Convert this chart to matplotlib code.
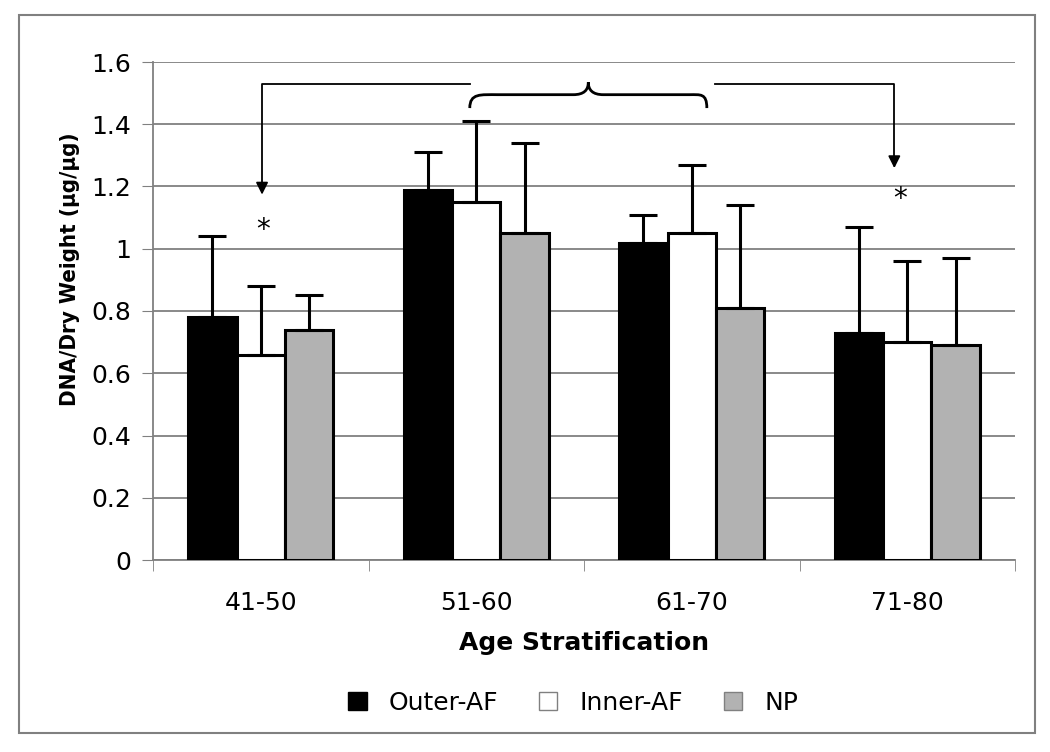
import matplotlib
matplotlib.use("Agg")
import matplotlib.pyplot as plt
import numpy as np
from matplotlib.path import Path
from matplotlib.patches import PathPatch, Rectangle

categories = ["41-50", "51-60", "61-70", "71-80"]
outer_af = [0.78, 1.19, 1.02, 0.73]
inner_af = [0.66, 1.15, 1.05, 0.70]
np_vals = [0.74, 1.05, 0.81, 0.69]
outer_err = [0.26, 0.12, 0.09, 0.34]
inner_err = [0.22, 0.26, 0.22, 0.26]
np_err = [0.11, 0.29, 0.33, 0.28]

plt.rcParams['font.family'] = ['DejaVu Sans']

fig = plt.figure(figsize=(10.5, 7.52), dpi=100)
ax = fig.add_axes([153 / 1050, 1 - 560 / 752, (1015 - 153) / 1050, (560 - 62) / 752])

x = np.arange(len(categories))
w = 0.225
series = [(outer_af, outer_err, "black", "Outer-AF"),
          (inner_af, inner_err, "white", "Inner-AF"),
          (np_vals, np_err, "#b2b2b2", "NP")]
for i, (vals, err, col, lab) in enumerate(series):
    ax.bar(x + (i - 1) * w, vals, w, color=col, edgecolor="black", linewidth=2.2,
           label=lab, zorder=3)
    ax.errorbar(x + (i - 1) * w, vals, yerr=[np.zeros(len(err)), err], fmt="none",
                ecolor="black", elinewidth=2.2, capsize=10, capthick=2.2, zorder=4)

ax.set_ylim(0, 1.6)
ax.set_xlim(-0.5, 3.5)
ax.set_yticks(np.arange(0, 1.61, 0.2))
ax.set_yticklabels(["0", "0.2", "0.4", "0.6", "0.8", "1", "1.2", "1.4", "1.6"])
ax.set_xticks(x)
ax.set_xticklabels(categories)
ax.set_xticks(np.arange(-0.5, 3.6, 1), minor=True)
ax.tick_params(axis="x", which="major", length=0, labelsize=18, pad=22)
ax.tick_params(axis="x", which="minor", length=8, color="#808080", direction="out")
ax.tick_params(axis="y", length=8, color="#808080", labelsize=18, pad=8)
ax.yaxis.grid(True, color="#808080", linewidth=1.3, zorder=0)
ax.set_axisbelow(True)
for s in ["top", "right"]:
    ax.spines[s].set_visible(False)
for s in ["left", "bottom"]:
    ax.spines[s].set_color("#808080")
    ax.spines[s].set_linewidth(1.3)

ax.set_ylabel("DNA/Dry Weight (\u00b5g/\u00b5g)", fontsize=16, fontweight="heavy",
              fontstretch="condensed")
ax.yaxis.set_label_coords(-(153 - 80) / 862, (560 - 269) / 498)
ax.set_xlabel("Age Stratification", fontsize=18, fontweight="heavy")
ax.xaxis.set_label_coords(0.5, -(631 - 560) / 498)

# significance connectors
ax.plot([0.97, 0.006, 0.006], [1.53, 1.53, 1.20], color="black", lw=1.3, clip_on=False)
ax.annotate("", xy=(0.006, 1.165), xytext=(0.006, 1.21),
            arrowprops=dict(arrowstyle="-|>", color="black", lw=1.3, mutation_scale=18))
ax.plot([2.11, 2.94, 2.94], [1.53, 1.53, 1.29], color="black", lw=1.3, clip_on=False)
ax.annotate("", xy=(2.94, 1.25), xytext=(2.94, 1.30),
            arrowprops=dict(arrowstyle="-|>", color="black", lw=1.3, mutation_scale=18))
ax.text(0.01, 1.06, "*", fontsize=20, ha="center", va="center")
ax.text(2.965, 1.16, "*", fontsize=20, ha="center", va="center")

# brace
verts = [(0.97, 1.452), (0.97, 1.50), (1.02, 1.495), (1.10, 1.495),
         (1.45, 1.495),
         (1.50, 1.495), (1.52, 1.51), (1.52, 1.535),
         (1.52, 1.51), (1.54, 1.495), (1.59, 1.495),
         (1.99, 1.495),
         (2.04, 1.495), (2.07, 1.50), (2.07, 1.452)]
codes = [Path.MOVETO, Path.CURVE4, Path.CURVE4, Path.CURVE4,
         Path.LINETO,
         Path.CURVE4, Path.CURVE4, Path.CURVE4,
         Path.CURVE4, Path.CURVE4, Path.CURVE4,
         Path.LINETO,
         Path.CURVE4, Path.CURVE4, Path.CURVE4]
ax.add_patch(PathPatch(Path(verts, codes), fill=False, lw=2, edgecolor="black"))

leg = fig.legend(loc="center", bbox_to_anchor=(0.546, 1 - 703 / 752), ncol=3,
                 frameon=False, fontsize=18, handlelength=0.75, handleheight=0.75,
                 columnspacing=1.6, handletextpad=0.9)
for h in leg.legend_handles:
    h.set_linewidth(1)
    h.set_edgecolor("#808080" if h.get_facecolor()[0] > 0.5 else "black")

fig.patches.append(Rectangle((19 / 1050, 1 - 733 / 752), (1035 - 19) / 1050, (733 - 15) / 752,
                             transform=fig.transFigure, fill=False, edgecolor="#808080",
                             linewidth=1.5))

fig.savefig("out.png", dpi=100)
